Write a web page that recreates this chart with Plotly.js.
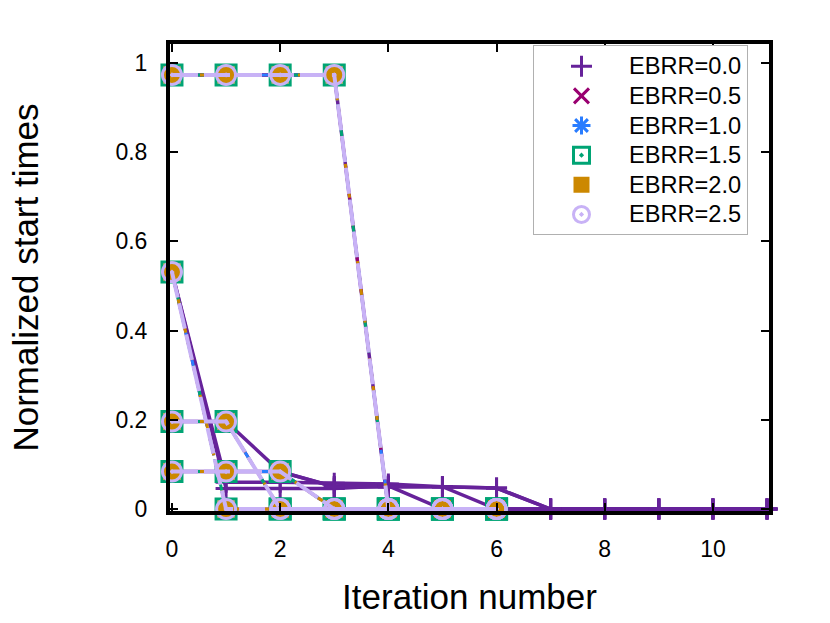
<!DOCTYPE html>
<html>
<head>
<meta charset="utf-8">
<script src="https://cdn.plot.ly/plotly-3.0.1.min.js"></script>
<style>html,body{margin:0;padding:0;background:#fff;}#chart{width:830px;height:623px;}</style>
</head>
<body>
<div id="chart"></div>
<script>
// ---- data ----
const seriesNames = ['EBRR=0.0', 'EBRR=0.5', 'EBRR=1.0', 'EBRR=1.5', 'EBRR=2.0', 'EBRR=2.5'];
const xTickVals = [0, 2, 4, 6, 8, 10];
const yTickVals = [0, 0.2, 0.4, 0.6, 0.8, 1];

// EBRR=0.0 : iterations 0..11, one array per job
const iterLong = [0, 1, 2, 3, 4, 5, 6, 7, 8, 9, 10, 11];
const ebrr00JobA  = [0.973, 0.973, 0.973, 0.973, 0, 0, 0, 0, 0, 0, 0, 0];
const ebrr00JobB1 = [0.531, 0.060, 0.060, 0.058, 0.056, 0.050, 0, 0, 0, 0, 0, 0];
const ebrr00JobB2 = [0.531, 0.046, 0.046, 0.046, 0.052, 0, 0, 0, 0, 0, 0, 0];
const ebrr00JobC  = [0.196, 0.196, 0.084, 0.050, 0.050, 0.050, 0.047, 0, 0, 0, 0, 0];
const ebrr00JobD  = [0.084, 0.084, 0.084, 0.050, 0.050, 0.050, 0.047, 0, 0, 0, 0, 0];

// EBRR=0.5 .. 2.5 : iterations 0..6 (the five series coincide in the picture)
const iterShort = [0, 1, 2, 3, 4, 5, 6];
const ebrrHighJobA = [0.973, 0.973, 0.973, 0.973, 0, 0, 0];
const ebrrHighJobB = [0.531, 0, 0, 0, 0, 0, 0];
const ebrrHighJobC = [0.196, 0.196, 0, 0, 0, 0, 0];
const ebrrHighJobD = [0.084, 0.084, 0.084, 0, 0, 0, 0];

const seriesJobs = [
  [ebrr00JobA, ebrr00JobB1, ebrr00JobB2, ebrr00JobC, ebrr00JobD],
  [ebrrHighJobA, ebrrHighJobB, ebrrHighJobC, ebrrHighJobD],
  [ebrrHighJobA, ebrrHighJobB, ebrrHighJobC, ebrrHighJobD],
  [ebrrHighJobA, ebrrHighJobB, ebrrHighJobC, ebrrHighJobD],
  [ebrrHighJobA, ebrrHighJobB, ebrrHighJobC, ebrrHighJobD],
  [ebrrHighJobA, ebrrHighJobB, ebrrHighJobC, ebrrHighJobD]
];
const seriesIters = [iterLong, iterShort, iterShort, iterShort, iterShort, iterShort];

// ---- styles ----
const colors  = ['#66229a', '#990070', '#2a7dff', '#00a474', '#cc8800', '#c8b2f6'];
const symbols = ['cross-thin', 'x-thin', 'asterisk', 'square-open-dot', 'square', 'circle-open-dot'];
const msizes  = [15, 15, 15, 20, 17, 19];
const mlinew  = [3, 3, 3, 3, 0, 3];
const dashes  = ['solid', '18px,10px', '8px,22px', '10px,14px', '6px,8px', '26px,6px'];
const lwidths = [3.5, 3, 3, 3, 3, 4];

function joinJobs(iters, jobs) {
  const x = [], y = [];
  jobs.forEach((job, k) => {
    if (k > 0) { x.push(null); y.push(null); }
    job.forEach((v, i) => { x.push(iters[i]); y.push(v); });
  });
  return {x, y};
}

const traces = [];
seriesNames.forEach((name, s) => {
  const d = joinJobs(seriesIters[s], seriesJobs[s]);
  traces.push({
    x: d.x, y: d.y, type: 'scatter', mode: 'lines', name: name,
    showlegend: false, connectgaps: false, cliponaxis: false,
    line: {color: colors[s], width: lwidths[s], dash: dashes[s]},
    hoverinfo: 'skip'
  });
  traces.push({
    x: d.x, y: d.y, type: 'scatter', mode: 'markers',
    name: '<span style="font-size:23.6px">' + name + '</span>',
    showlegend: true, cliponaxis: false,
    marker: {
      symbol: symbols[s], size: msizes[s], color: colors[s],
      line: {color: colors[s], width: mlinew[s]}
    }
  });
});

const font = 'Liberation Sans, Arial, Helvetica, sans-serif';
const layout = {
  width: 830, height: 623,
  margin: {l: 170, r: 61, t: 44, b: 112},
  paper_bgcolor: '#ffffff', plot_bgcolor: '#ffffff',
  font: {family: font, size: 23, color: '#000'},
  showlegend: true,
  xaxis: {
    range: [-0.0365, 11.0365],
    tickvals: xTickVals, ticktext: xTickVals.map(String),
    ticks: 'inside', ticklen: 8, tickwidth: 2, tickcolor: '#000',
    showline: true, linewidth: 4, linecolor: '#000', mirror: 'ticks',
    showgrid: false, zeroline: false,
    ticklabelstandoff: 14,
    tickfont: {family: font, size: 23, color: '#000'},
    title: {text: 'Iteration number', font: {family: font, size: 35, color: '#000'}, standoff: 25}
  },
  yaxis: {
    range: [-0.0044, 1.0422],
    tickvals: yTickVals, ticktext: yTickVals.map(String),
    ticks: 'inside', ticklen: 8, tickwidth: 2, tickcolor: '#000',
    showline: true, linewidth: 4, linecolor: '#000', mirror: 'ticks',
    showgrid: false, zeroline: false,
    ticklabelstandoff: 14,
    tickfont: {family: font, size: 23, color: '#000'},
    title: {text: 'Normalized start times', font: {family: font, size: 35, color: '#000'}, standoff: 67}
  },
  legend: {
    x: 0.606, y: 0.997, xanchor: 'left', yanchor: 'top',
    bgcolor: '#ffffff', bordercolor: '#b0b0b0', borderwidth: 1,
    font: {family: font, size: 20.5, color: '#000'},
    itemwidth: 85, tracegroupgap: 0
  }
};

Plotly.newPlot('chart', traces, layout, {displayModeBar: false, staticPlot: true});
</script>
</body>
</html>
